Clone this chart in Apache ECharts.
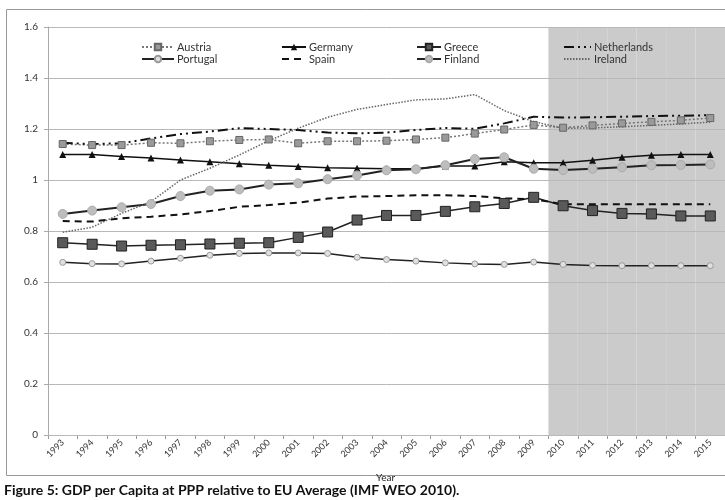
<!DOCTYPE html>
<html>
<head>
<meta charset="utf-8">
<script src="https://cdn.jsdelivr.net/npm/echarts@6/dist/echarts.min.js"></script>
<style>
  html, body { margin: 0; padding: 0; background: #fff; }
  #chart_div { width: 725px; height: 500px; }
</style>
</head>
<body>
<div id="chart_div"></div>
<script>
var years = ['1993', '1994', '1995', '1996', '1997', '1998', '1999', '2000', '2001', '2002', '2003',
    '2004', '2005', '2006', '2007', '2008', '2009', '2010', '2011', '2012', '2013', '2014', '2015'];

var austria = [1.141, 1.137, 1.137, 1.146, 1.144, 1.152, 1.157, 1.159, 1.144, 1.152, 1.152, 1.154,
    1.159, 1.166, 1.182, 1.198, 1.216, 1.205, 1.214, 1.222, 1.228, 1.234, 1.243];
var germany = [1.100, 1.100, 1.092, 1.086, 1.078, 1.072, 1.064, 1.058, 1.053, 1.048, 1.046, 1.044,
    1.044, 1.055, 1.055, 1.072, 1.068, 1.068, 1.077, 1.089, 1.097, 1.100, 1.100];
var greece = [0.754, 0.748, 0.741, 0.744, 0.746, 0.749, 0.752, 0.754, 0.775, 0.796, 0.843, 0.861,
    0.861, 0.877, 0.895, 0.908, 0.932, 0.899, 0.880, 0.869, 0.867, 0.859, 0.859];
var netherlands = [1.146, 1.141, 1.144, 1.163, 1.180, 1.190, 1.203, 1.200, 1.196, 1.186, 1.183, 1.186,
    1.196, 1.204, 1.201, 1.222, 1.248, 1.245, 1.246, 1.248, 1.251, 1.252, 1.254];
var portugal = [0.677, 0.672, 0.671, 0.682, 0.693, 0.705, 0.712, 0.714, 0.714, 0.712, 0.697, 0.688,
    0.682, 0.675, 0.671, 0.669, 0.678, 0.669, 0.665, 0.664, 0.664, 0.664, 0.664];
var spain = [0.839, 0.837, 0.850, 0.856, 0.865, 0.878, 0.895, 0.902, 0.911, 0.927, 0.935, 0.937,
    0.940, 0.940, 0.937, 0.928, 0.925, 0.905, 0.905, 0.905, 0.905, 0.905, 0.905];
var finland = [0.867, 0.880, 0.893, 0.906, 0.937, 0.958, 0.963, 0.982, 0.987, 1.003, 1.018, 1.038,
    1.042, 1.058, 1.082, 1.089, 1.044, 1.039, 1.044, 1.050, 1.058, 1.059, 1.061];
var ireland = [0.795, 0.815, 0.869, 0.915, 1.000, 1.046, 1.098, 1.154, 1.203, 1.246, 1.277, 1.296,
    1.314, 1.318, 1.335, 1.272, 1.229, 1.203, 1.204, 1.209, 1.214, 1.220, 1.227];

// shaded forecast years (2010-2015), full axis height
var forecastBand = [null, null, null, null, null, null, null, null, null, null, null, null,
    null, null, null, null, null, 1.6, 1.6, 1.6, 1.6, 1.6, 1.6];

var FONT = 'Lato, "Open Sans", sans-serif';

// legend entry; lines without markers get a hidden symbol
function entry(name, noMarker) {
    if (!noMarker) return name;
    return { name: name, itemStyle: { opacity: 0 } };
}

function legendCol(left, iconW, items) {
    return {
        orient: 'vertical',
        left: left,
        top: 41,
        padding: 0,
        itemWidth: iconW,
        itemHeight: 8,
        itemGap: 0,
        data: items,
        textStyle: { fontFamily: FONT, fontSize: 11, lineHeight: 12, color: '#333', padding: [0, 0, 0, -2] }
    };
}

function lineSeries(name, data, opts) {
    var s = {
        name: name,
        type: 'line',
        data: data,
        z: 5,
        symbol: 'none'
    };
    for (var k in opts) s[k] = opts[k];
    return s;
}

var myChart = echarts.init(document.getElementById('chart_div'));
myChart.setOption({
    animation: false,
    title: {
        text: 'Figure 5: GDP per Capita at PPP relative to EU Average (IMF WEO 2010).',
        left: 4,
        top: 483,
        padding: 0,
        textStyle: { fontFamily: FONT, fontSize: 14, fontWeight: 'bold', color: '#111' }
    },
    graphic: [{
        type: 'rect',
        shape: { x: 6.5, y: 9.5, width: 740, height: 466 },
        style: { fill: null, stroke: '#999', lineWidth: 1 },
        z: -1,
        silent: true
    }, {
        type: 'text',
        left: 376,
        top: 473,
        style: { text: 'Year', fontFamily: FONT, fontSize: 10, fill: '#222' },
        silent: true
    }],
    legend: [
        legendCol(141, 32, [entry('Austria'), entry('Portugal')]),
        legendCol(281, 24, [entry('Germany'), entry('Spain', true)]),
        legendCol(416, 24, [entry('Greece'), entry('Finland')]),
        legendCol(563, 27, [entry('Netherlands', true), entry('Ireland', true)])
    ],
    grid: {
        left: 48,
        right: 0,
        top: 27,
        bottom: 65
    },
    xAxis: {
        type: 'category',
        data: years,
        axisLine: { lineStyle: { color: '#999' } },
        axisTick: { show: true, length: 4, lineStyle: { color: '#999' } },
        axisLabel: { rotate: 45, fontFamily: FONT, fontSize: 9, color: '#333', margin: 6 }
    },
    yAxis: {
        type: 'value',
        min: 0,
        max: 1.6,
        interval: 0.2,
        z: 3,
        axisLine: { show: true, lineStyle: { color: '#aaa' } },
        axisTick: { show: true, length: 4, lineStyle: { color: '#aaa' } },
        axisLabel: { fontFamily: FONT, fontSize: 10, color: '#333', margin: 10 },
        splitLine: { lineStyle: { color: '#b8b8b8', width: 1 } }
    },
    series: [
        {
            name: 'forecast',
            type: 'bar',
            data: forecastBand,
            barWidth: '100%',
            silent: true,
            z: 1,
            itemStyle: { color: '#cbcbcb' }
        },
        lineSeries('Austria', austria, {
            symbol: 'rect', symbolSize: 7,
            itemStyle: { color: '#9a9a9a', borderColor: '#666', borderWidth: 1 },
            lineStyle: { color: '#777', width: 1.5, type: [2, 2] }
        }),
        lineSeries('Germany', germany, {
            symbol: 'triangle', symbolSize: 7,
            itemStyle: { color: '#111' },
            lineStyle: { color: '#111', width: 1.5 }
        }),
        lineSeries('Greece', greece, {
            symbol: 'rect', symbolSize: 10,
            itemStyle: { color: '#5a5a5a', borderColor: '#222', borderWidth: 1 },
            lineStyle: { color: '#222', width: 1.5 }
        }),
        lineSeries('Netherlands', netherlands, {
            itemStyle: { color: '#111' },
            lineStyle: { color: '#111', width: 2, type: [10, 4, 2, 4, 2, 4] }
        }),
        lineSeries('Portugal', portugal, {
            symbol: 'circle', symbolSize: 6,
            itemStyle: { color: '#e0e0e0', borderColor: '#999', borderWidth: 1 },
            lineStyle: { color: '#222', width: 1.5 }
        }),
        lineSeries('Spain', spain, {
            itemStyle: { color: '#111' },
            lineStyle: { color: '#111', width: 2, type: [7, 5] }
        }),
        lineSeries('Finland', finland, {
            symbol: 'circle', symbolSize: 9,
            itemStyle: { color: '#bdbdbd', borderColor: '#aaa', borderWidth: 1 },
            lineStyle: { color: '#222', width: 2 }
        }),
        lineSeries('Ireland', ireland, {
            itemStyle: { color: '#666' },
            lineStyle: { color: '#666', width: 1.5, type: [1.5, 1.5] }
        })
    ]
});
</script>
</body>
</html>
